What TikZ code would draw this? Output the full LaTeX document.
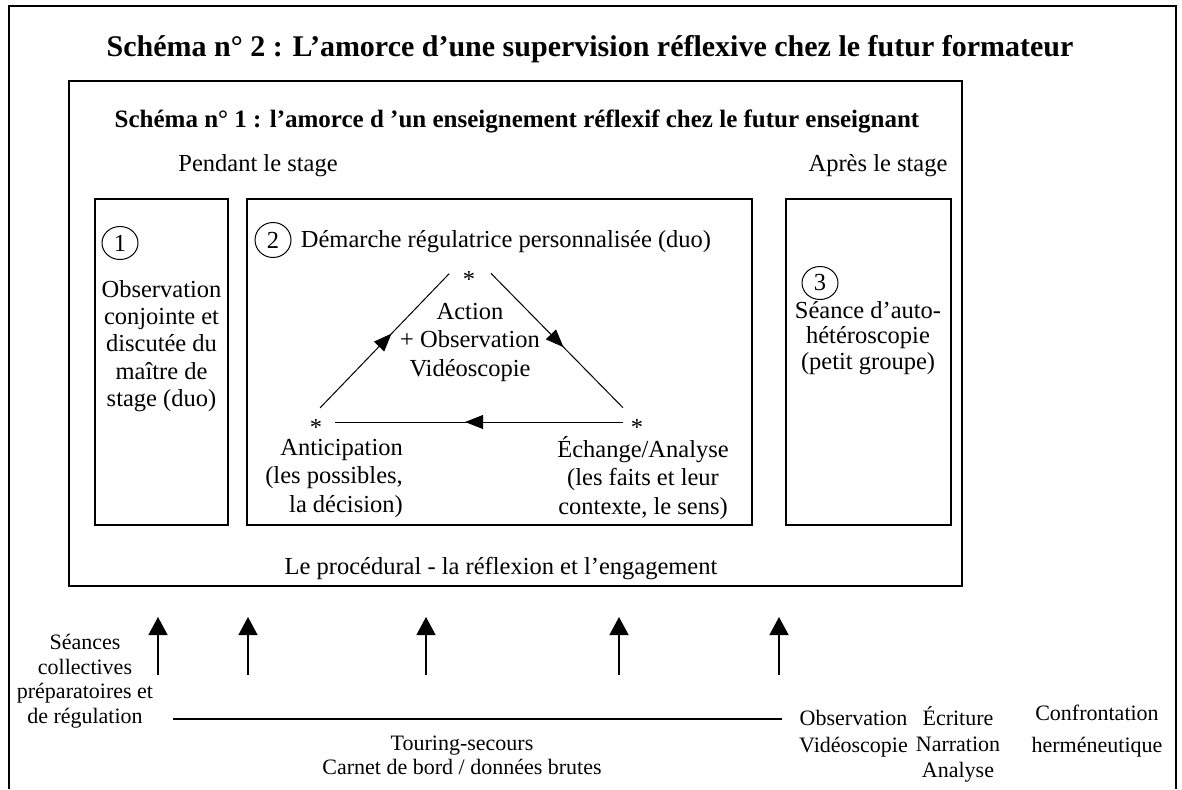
\documentclass[tikz,border=0pt]{standalone}
\usepackage{fontspec}
\setmainfont{Liberation Serif}
\usepackage{tikz}
\usetikzlibrary{arrows.meta, calc, positioning, decorations.markings, shapes.geometric}

\newcommand{\titlefont}{\fontsize{30}{34}\selectfont\bfseries}
\newcommand{\subfont}{\fontsize{25}{29}\selectfont\bfseries}
\newcommand{\bodyfont}{\fontsize{24.5}{28.5}\selectfont}
\newcommand{\notefont}{\fontsize{22}{24.5}\selectfont}

\tikzset{
  frame/.style={line width=1.3pt},
  txt/.style={font=\bodyfont, align=center, inner sep=0pt},
  note/.style={font=\notefont, align=center, inner sep=0pt},
  num/.style={draw, ellipse, line width=1pt, minimum width=36pt, minimum height=33pt, inner sep=0pt, font=\bodyfont},
  star/.style={inner sep=0pt, font=\bodyfont},
  cycle/.style={line width=1pt, postaction={decorate},
    decoration={markings, mark=at position #1 with {\arrow{Triangle[length=18pt,width=14pt]}}}},
  cycle/.default=0.53,
  uparrow/.style={line width=1.3pt, -{Triangle[length=18pt,width=19pt]}}
}

\begin{document}
\begin{tikzpicture}[x=1pt, y=-1pt]
    \useasboundingbox (0,0) rectangle (1182,789);

    % cadre du schéma 2
    \draw[line width=2pt] (9,789) -- (9,6) -- (1176,6) -- (1176,789);
    \node[anchor=base, font=\titlefont, inner sep=0pt] (titre2) at (590,57)
        {Schéma n° 2 : L'amorce d'une supervision réflexive chez le futur formateur};

    % cadre du schéma 1
    \draw[frame] (69,81) rectangle (962,586);
    \node[anchor=base, font=\subfont, inner sep=0pt] (titre1) at (517,128)
        {Schéma n° 1 : l'amorce d 'un enseignement réflexif chez le futur enseignant};
    \node[txt, anchor=base] (pendant) at (258,171) {Pendant le stage};
    \node[txt, anchor=base] (apres) at (878,171) {Après le stage};

    % les trois étapes
    \draw[frame] (95,199) rectangle (228,525);
    \draw[frame] (247,199) rectangle (752,525);
    \draw[frame] (786,199) rectangle (951,525);

    % étape 1
    \node[num] (n1) at (120,243) {1};
    \node[txt, font=\fontsize{24.5}{27.3}\selectfont] (obs) at (161.5,346)
        {Observation\\conjointe et\\discutée du\\maître de\\stage (duo)};

    % étape 2
    \node[num, minimum height=35pt] (n2) at (273,240) {2};
    \node[txt, anchor=base] (demarche) at (506,247) {Démarche régulatrice personnalisée (duo)};
    \coordinate (apex) at (470,252);
    \coordinate (cl) at (306.5,422);
    \coordinate (cr) at (637,422);
    \draw[cycle=0.52, shorten <=19.5pt, shorten >=30pt] (cl) -- (apex);
    \draw[cycle=0.56, shorten <=30pt, shorten >=20pt] (apex) -- (cr);
    \draw[cycle=0.52, shorten <=14pt, shorten >=28pt] (cr) -- (cl);
    \node[star] (st) at (469,279) {*};
    \node[star] (sl) at (316,427.5) {*};
    \node[star] (sr) at (637,427.5) {*};
    \node[txt] (action) at (470,342) {Action\\+ Observation\\Vidéoscopie};
    \node[txt, align=right, anchor=east] (anticip) at (403,478)
        {Anticipation\\(les possibles,\\la décision)};
    \node[txt] (echange) at (643,478)
        {Échange/Analyse\\(les faits et leur\\contexte, le sens)};

    % étape 3
    \node[num] (n3) at (820,283) {3};
    \node[txt, font=\fontsize{24.5}{25.5}\selectfont] (seance) at (868,338)
        {Séance d'auto-\\hétéroscopie\\(petit groupe)};

    \node[txt, anchor=base] (proced) at (501,574) {Le procédural - la réflexion et l'engagement};

    % dispositif de formation
    \foreach \x [count=\i] in {158,248,426,619,779} {
        \coordinate (u\i) at (\x,675);
        \coordinate (v\i) at (\x,617);
        \draw[uparrow] (u\i) -- (v\i);
    }
    \node[note] (collect) at (85,681)
        {Séances\\collectives\\préparatoires et\\de régulation};
    \coordinate (tl) at (173,719);
    \coordinate (tr) at (782,719);
    \draw[frame] (tl) -- (tr);
    \node[note, anchor=base] (touring) at (462,750) {Touring-secours};
    \node[note, anchor=base] (carnet) at (462,774) {Carnet de bord / données brutes};
    \node[note, anchor=base, font=\fontsize{22}{27}\selectfont] (video) at (853.5,752)
        {Observation\\Vidéoscopie};
    \node[note, anchor=base, font=\fontsize{22}{26}\selectfont] (ecrit) at (958,777)
        {Écriture\\Narration\\Analyse};
    \node[note, anchor=base, font=\fontsize{22}{32}\selectfont] (confront) at (1097,752)
        {Confrontation\\herméneutique};
\end{tikzpicture}
\end{document}
